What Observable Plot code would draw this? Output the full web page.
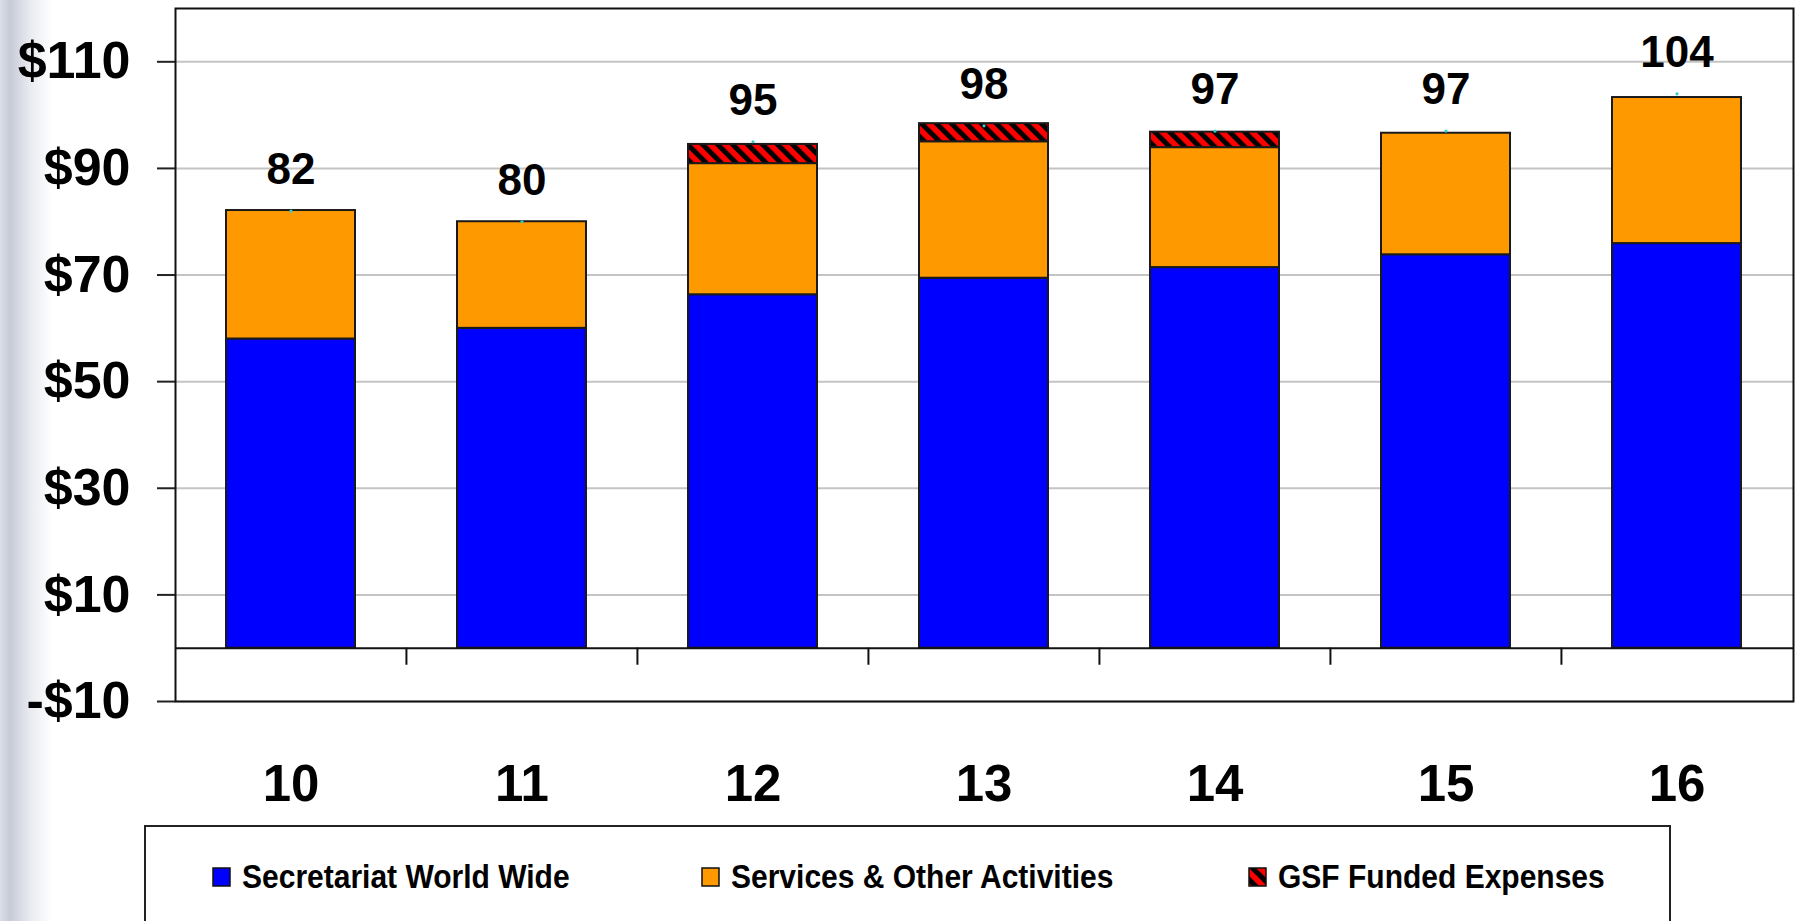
<!DOCTYPE html>
<html>
<head>
<meta charset="utf-8">
<script src="https://cdn.jsdelivr.net/npm/d3@7"></script>
<script src="https://cdn.jsdelivr.net/npm/@observablehq/plot@0.6"></script>
<style>
  html, body { margin: 0; padding: 0; }
  body {
    width: 1798px; height: 921px; overflow: hidden; position: relative;
    background: linear-gradient(to right, #dcdfe7 0px, #c7cbd8 10px, #e9ebf0 30px, #ffffff 52px);
    font-family: "Liberation Sans", Arial, sans-serif;
  }
  #chart { position: absolute; left: 0; top: 0; }
  #legend {
    position: absolute; left: 144px; top: 825px; width: 1527px; height: 200px;
    border: 2px solid #222; background: #fff; box-sizing: border-box;
  }
  .item { position: absolute; top: 37px; height: 26px; display: flex; align-items: center; }
  .item svg { display: block; margin-right: 11px; }
  .item span { font-size: 30px; font-weight: bold; color: #000; white-space: nowrap; display: inline-block; transform: scaleY(1.08); }
</style>
</head>
<body>
<div id="chart"></div>
<div id="legend"></div>
<script>
// ---- data ----
const years = ["10", "11", "12", "13", "14", "15", "16"];
const seriesNames = ["Secretariat World Wide", "Services & Other Activities", "GSF Funded Expenses"];
const secretariat = [58, 60, 66.3, 69.4, 71.4, 73.8, 75.9];
const services = [24.1, 20, 24.6, 25.6, 22.5, 22.8, 27.4];
const gsf = [0, 0, 3.6, 3.4, 2.9, 0, 0];
const totalLabels = [82, 80, 95, 98, 97, 97, 104];
const yTicks = [-10, 10, 30, 50, 70, 90, 110];
const seriesColors = ["#0000ff", "#ff9900", "url(#gsfHatch)"];

// ---- build tables ----
const rows = [];
years.forEach((yr, i) => {
  [secretariat, services, gsf].forEach((arr, k) => {
    if (arr[i] > 0) rows.push({year: yr, series: seriesNames[k], value: arr[i]});
  });
});
const labels = years.map((yr, i) => ({year: yr, total: totalLabels[i]}));

const W = 1798, H = 820;
const mL = 175, mR = 5, mT = 8, mB = 119;
const step = (W - mL - mR) / years.length;

const chart = Plot.plot({
  width: W, height: H,
  marginLeft: mL, marginRight: mR, marginTop: mT, marginBottom: mB,
  style: {background: "transparent", fontFamily: "'Liberation Sans', Arial, sans-serif", color: "#000"},
  x: {domain: years, paddingInner: 0.44, paddingOuter: 0.22},
  y: {domain: [-10, 120]},
  color: {type: "ordinal", domain: seriesNames, range: seriesColors},
  marks: [
    Plot.gridY(yTicks, {stroke: "#c4c4c4", strokeOpacity: 1, strokeWidth: 2}),
    Plot.barY(rows, {x: "year", y: "value", fill: "series", stroke: "#1a1a1a", strokeWidth: 2}),
    Plot.ruleY([0], {stroke: "#111", strokeWidth: 2}),
    Plot.ruleX(years.slice(1), {x: d => d, y1: 0, y2: -3.2, dx: -step / 2, stroke: "#111", strokeWidth: 2}),
    Plot.dot(labels, {x: "year", y: "total", r: 1.6, fill: "#33cccc", stroke: null}),
    Plot.text(labels, {x: "year", y: "total", text: d => String(d.total), dy: -41, fontSize: 44, fontWeight: "bold", fill: "#000"}),
    Plot.frame({stroke: "#111", strokeWidth: 2}),
    Plot.axisY({ticks: yTicks, tickSize: 18, tickPadding: 27, fontSize: 52, fontWeight: "bold", stroke: "#222", strokeWidth: 2,
      tickFormat: d => (d < 0 ? "-$" : "$") + Math.abs(d), label: null}),
    Plot.axisX({tickSize: 0, tickPadding: 63, fontSize: 51, fontWeight: "bold", label: null})
  ]
});

// hatch pattern definition
const ns = "http://www.w3.org/2000/svg";
const defs = document.createElementNS(ns, "defs");
defs.innerHTML = '<pattern id="gsfHatch" patternUnits="userSpaceOnUse" width="10.6" height="10.6" patternTransform="rotate(-45)">' +
  '<rect width="10.6" height="10.6" fill="#ff0000"></rect><rect width="5" height="10.6" fill="#000000"></rect></pattern>';
chart.insertBefore(defs, chart.firstChild);
document.getElementById("chart").appendChild(chart);

// legend
const legend = document.getElementById("legend");
const itemLeft = [66, 555, 1102];
seriesNames.forEach((name, k) => {
  const item = document.createElement("div");
  item.className = "item";
  item.style.left = itemLeft[k] + "px";
  item.innerHTML = '<svg width="19" height="20"><rect x="1" y="1" width="17" height="18" fill="' + seriesColors[k] +
    '" stroke="#111" stroke-width="1.5"></rect></svg><span></span>';
  item.querySelector("span").textContent = name;
  legend.appendChild(item);
});
</script>
</body>
</html>
